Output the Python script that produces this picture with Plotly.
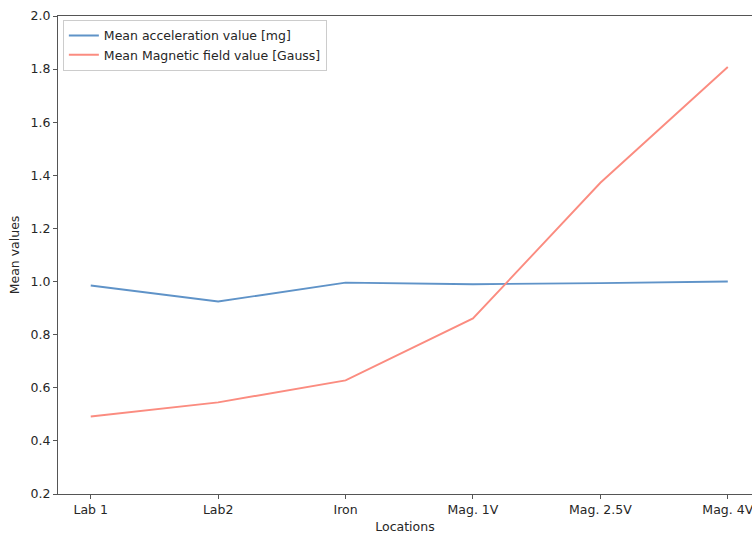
import plotly.graph_objects as go

locations = ["Lab 1", "Lab2", "Iron", "Mag. 1V", "Mag. 2.5V", "Mag. 4V"]
accel_values = [0.985, 0.925, 0.996, 0.990, 0.994, 1.000]
magnetic_values = [0.492, 0.545, 0.628, 0.861, 1.372, 1.808]
y_ticks = [0.2, 0.4, 0.6, 0.8, 1.0, 1.2, 1.4, 1.6, 1.8, 2.0]

xpos = list(range(len(locations)))

fig = go.Figure()
fig.add_trace(go.Scatter(x=xpos, y=accel_values, mode="lines",
                         name="Mean acceleration value [mg]",
                         line=dict(color="#5f93c8", width=1.9)))
fig.add_trace(go.Scatter(x=xpos, y=magnetic_values, mode="lines",
                         name="Mean Magnetic field value [Gauss]",
                         line=dict(color="#fb8c80", width=1.9)))

FS = 12.5
axis_font = dict(family="DejaVu Sans", size=FS, color="#262626")
fig.update_layout(
    width=752, height=534,
    margin=dict(l=58, r=0, t=16, b=40, autoexpand=False),
    paper_bgcolor="white", plot_bgcolor="white",
    font=dict(family="DejaVu Sans", size=FS, color="#262626"),
    showlegend=True,
    legend=dict(x=0.007, y=0.992, xanchor="left", yanchor="top",
                bgcolor="rgba(255,255,255,0.8)", bordercolor="#cccccc", borderwidth=1,
                font=dict(family="DejaVu Sans", size=FS, color="#262626"),
                tracegroupgap=0, itemwidth=30),
    xaxis=dict(range=[-0.257, 5.19], tickmode="array", tickvals=xpos, ticktext=locations,
               automargin=False, ticklabeloverflow="allow",
               showgrid=False, zeroline=False, showline=True, linecolor="#555555", linewidth=1,
               mirror=True, ticks="outside", ticklen=4, tickcolor="#555555",
               tickfont=axis_font,
               title=dict(text="Locations", font=axis_font, standoff=7)),
    yaxis=dict(range=[0.2, 2.0], tickmode="array", tickvals=y_ticks,
               ticktext=[f"{v:.1f}" for v in y_ticks],
               automargin=False, ticklabeloverflow="allow",
               showgrid=False, zeroline=False, showline=True, linecolor="#555555", linewidth=1,
               ticks="outside", ticklen=4, tickcolor="#555555",
               tickfont=axis_font,
               title=dict(text="Mean values", font=axis_font, standoff=8)),
)

fig.write_html("out.html", config={"displayModeBar": False},
               post_script="document.body.style.margin='0';document.body.style.overflow='hidden';")
